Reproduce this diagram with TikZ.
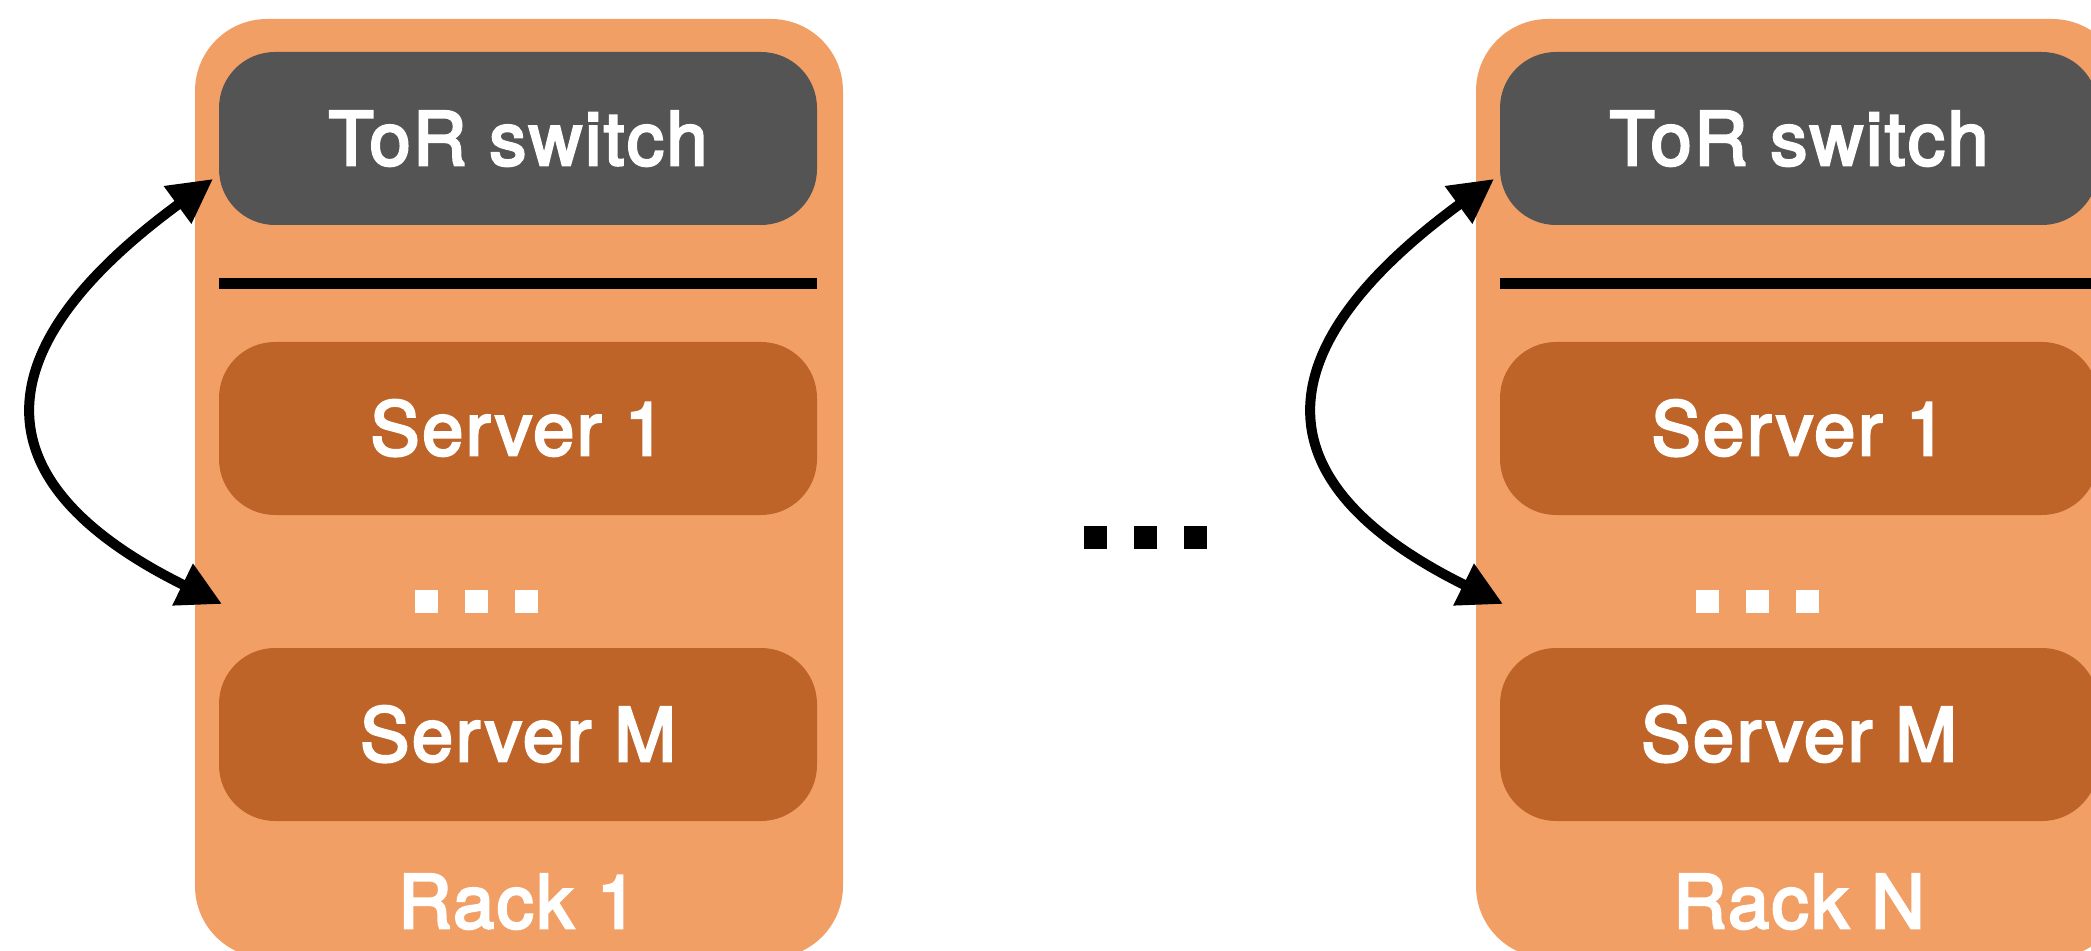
\documentclass[tikz,border=0pt]{standalone}
\usepackage{fontspec}
\setmainfont{TeX Gyre Heros}
\newfontfamily\lblfont{TeX Gyre Heros}[FakeBold=3.5, LetterSpace=3.5]
\usetikzlibrary{arrows.meta}
\definecolor{rackc}{HTML}{F29F66}
\definecolor{srvc}{HTML}{BE6428}
\definecolor{torc}{HTML}{545454}
\begin{document}
\begin{tikzpicture}[x=0.5pt,y=-0.5pt,
  rackbox/.style={fill=rackc, draw=none, rounded corners=36pt, minimum width=324pt, minimum height=469.5pt, inner sep=0pt},
  unitbox/.style={draw=none, rounded corners=28pt, minimum width=299pt, minimum height=86.5pt, inner sep=0pt,
    text=white, font=\fontsize{36.9}{44}\lblfont, text height=26.5pt, text depth=0pt},
  torbox/.style={unitbox, fill=torc},
  srvbox/.style={unitbox, fill=srvc},
  racklabel/.style={text=white, font=\fontsize{36.9}{44}\lblfont, text height=26.5pt, text depth=0pt, inner sep=0pt},
  sq/.style={minimum size=11.5pt, inner sep=0pt, draw=none},
  busline/.style={line width=5.5pt},
  biarrow/.style={line width=5pt, {Triangle[length=22pt,width=22pt]}-{Triangle[length=22pt,width=22pt]}}
]
\useasboundingbox (0,0) rectangle (2091,951);
\foreach \i/\dx/\lab in {1/0/1, 2/1281/N}{
  \node[rackbox] (rack\i) at (519+\dx,488.5) {};
  \node[torbox] (tor\i) at (518+\dx,138.5) {ToR switch};
  \coordinate (busl\i) at (219+\dx,283.5);
  \coordinate (busr\i) at (817+\dx,283.5);
  \draw[busline] (busl\i) -- (busr\i);
  \node[srvbox] (srvA\i) at (518+\dx,428.5) {Server 1};
  \node[sq, fill=white] (da\i) at (426.5+\dx,601.5) {};
  \node[sq, fill=white] (db\i) at (476+\dx,601.5) {};
  \node[sq, fill=white] (dc\i) at (526+\dx,601.5) {};
  \node[srvbox] (srvM\i) at (518+\dx,734.5) {Server M};
  \node[racklabel] (lab\i) at (518+\dx,901.5) {Rack \lab};
  \coordinate (ta\i) at (213+\dx,179);
  \coordinate (tb\i) at (222+\dx,604);
  \draw[biarrow] (ta\i) .. controls +(-226.7,166) and +(-252,-124.5) .. (tb\i);
}
\node[sq, fill=black] (ma) at (1095.5,537.5) {};
\node[sq, fill=black] (mb) at (1145,537.5) {};
\node[sq, fill=black] (mc) at (1195,537.5) {};
\end{tikzpicture}
\end{document}
